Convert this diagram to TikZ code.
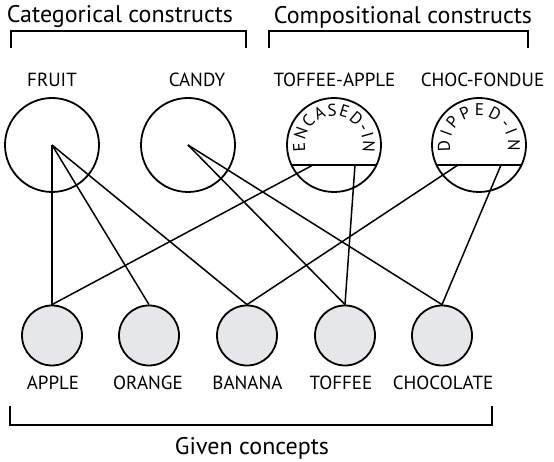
\documentclass[tikz,border=0pt]{standalone}
\usepackage{fontspec}
\setmainfont{PT Sans}
\usetikzlibrary{calc,decorations.text}
\definecolor{cfill}{HTML}{E6E7E8}
\newcommand{\arcfnt}{\fontsize{17}{17}\selectfont}
\begin{document}
\begin{tikzpicture}[x=1pt,y=1pt,
  big/.style={circle,draw,line width=1.8pt,minimum size=94pt,inner sep=0pt},
  small/.style={circle,draw,line width=1.8pt,fill=cfill,minimum size=60pt,inner sep=0pt},
  lbl/.style={font=\fontsize{19}{22}\selectfont,inner sep=0pt},
  hdr/.style={font=\fontsize{24}{27}\selectfont,inner sep=0pt},
  conn/.style={line width=1.5pt},
  brk/.style={line width=1.8pt}]
\useasboundingbox (0,0) rectangle (554,462);
% headers
\node[hdr] (hcat) at (120,445) {Categorical constructs};
\node[hdr] (hcomp) at (403,445) {Compositional constructs};
\node[hdr] (hgiven) at (252,14) {Given concepts};
% brackets
\draw[brk] (11,414) -- (11,431) -- (246,431) -- (246,414);
\draw[brk] (269,414) -- (269,431) -- (528,431) -- (528,414);
\draw[brk] (10,56) -- (10,37) -- (492,37) -- (492,56);
% top circles
\node[big] (fruit) at (52,317) {};
\node[big] (candy) at (188,317) {};
\node[big] (ta) at (334,317) {};
\node[big] (cf) at (479,317) {};
\node[lbl] (lfruit) at (52,382) {FRUIT};
\node[lbl] (lcandy) at (197,382) {CANDY};
\node[lbl] (lta) at (334.5,382) {TOFFEE-APPLE};
\node[lbl] (lcf) at (482.5,382) {CHOC-FONDUE};
% chords
\coordinate (taA) at ($(ta.center)+(-42.5,-20)$);
\coordinate (taB) at ($(ta.center)+(42.5,-20)$);
\coordinate (taL) at ($(ta.center)+(-21,-20)$);
\coordinate (taR) at ($(ta.center)+(21,-20)$);
\coordinate (cfA) at ($(cf.center)+(-42.5,-20)$);
\coordinate (cfB) at ($(cf.center)+(42.5,-20)$);
\coordinate (cfL) at ($(cf.center)+(-21,-20)$);
\coordinate (cfR) at ($(cf.center)+(22,-20)$);
\draw[line width=1.8pt] (taA) -- (taB);
\draw[line width=1.8pt] (cfA) -- (cfB);
% arc texts
\path[decorate,decoration={text along path,text={|\arcfnt|ENCASED-IN},text align=fit to path}]
  ($(ta.center)+(193:29)$) arc[start angle=193,end angle=-14,radius=29];
\path[decorate,decoration={text along path,text={|\arcfnt|DIPPED-IN},text align=fit to path}]
  ($(cf.center)+(193:29)$) arc[start angle=193,end angle=-12,radius=29];
% bottom circles
\node[small] (apple) at (52,126.5) {};
\node[small] (orange) at (149,126.5) {};
\node[small] (banana) at (247,126.5) {};
\node[small] (toffee) at (345,126.5) {};
\node[small] (choc) at (442,126.5) {};
\node[lbl] (lapple) at (53,79) {APPLE};
\node[lbl] (lorange) at (148,79) {ORANGE};
\node[lbl] (lbanana) at (247.5,79) {BANANA};
\node[lbl] (ltoffee) at (341,79) {TOFFEE};
\node[lbl] (lchoc) at (443,79) {CHOCOLATE};
% connectors
\draw[conn] (fruit.center) -- (apple.north);
\draw[conn] (fruit.center) -- (orange.north);
\draw[conn] (fruit.center) -- (banana.north);
\draw[conn] (candy.center) -- (toffee.north);
\draw[conn] (candy.center) -- (choc.north);
\draw[conn] (taL) -- (apple.north);
\draw[conn] (taR) -- (toffee.north);
\draw[conn] (cfL) -- (banana.north);
\draw[conn] (cfR) -- (choc.north);
\end{tikzpicture}
\end{document}
